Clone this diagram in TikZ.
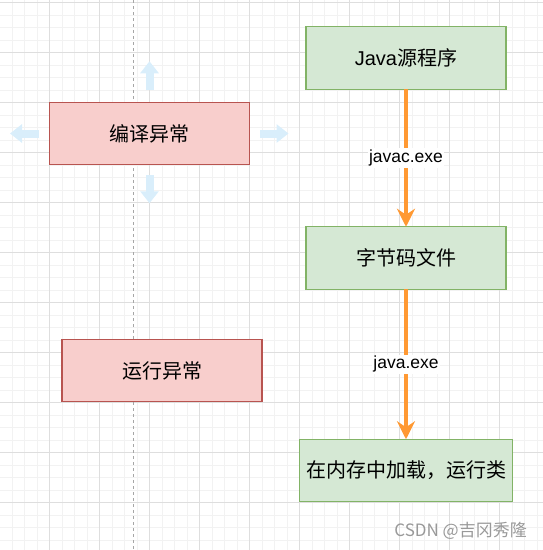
\documentclass[tikz,border=0pt]{standalone}
\usepackage{fontspec}
\setmainfont{Liberation Sans}
\newfontfamily\cjk{Noto Sans CJK SC}
\usepackage{tikz}
\usetikzlibrary{arrows.meta,positioning}
\definecolor{okfill}{HTML}{D5E8D4}
\definecolor{okline}{HTML}{82B366}
\definecolor{errfill}{HTML}{F8CECC}
\definecolor{errline}{HTML}{B85450}
\definecolor{flowline}{HTML}{FF9933}
\definecolor{hintblue}{RGB}{217,238,251}

\begin{document}
\begin{tikzpicture}[
    x=1pt, y=-1pt,
    okbox/.style={rectangle, draw=okline, fill=okfill, line width=1.25pt, outer sep=0pt, minimum width=200pt, minimum height=62.5pt, inner sep=0pt, font=\fontsize{20}{24}\selectfont},
    errbox/.style={rectangle, draw=errline, fill=errfill, line width=1.25pt, outer sep=0pt, minimum width=200pt, minimum height=62.5pt, inner sep=0pt, font=\fontsize{20}{24}\selectfont},
    flow/.style={-{Stealth[length=18pt, width=18pt, inset=6pt]}, draw=flowline, line width=3.5pt},
    tool/.style={fill=white, inner sep=1.5pt, font=\fontsize{17.5}{20}\selectfont},
    hint/.style={-{Triangle[length=12pt, width=18pt]}, draw=hintblue, line width=8pt},
    minorgrid/.style={draw=black!5, line width=0.8pt},
    majorgrid/.style={draw=black!13, line width=0.8pt},
    guide/.style={draw=black!35, line width=1pt, dash pattern=on 3pt off 3pt}
]
\useasboundingbox (0,0) rectangle (543,550);

% Grid
\begin{scope}
\clip (0,0) rectangle (543,550);
\foreach \gx in {-0.5,12,...,545} \draw[minorgrid] (\gx,0) -- (\gx,550);
\foreach \gy in {2.5,15,...,552} \draw[minorgrid] (0,\gy) -- (543,\gy);
\foreach \gx in {-0.5,49.5,...,545} \draw[majorgrid] (\gx,0) -- (\gx,550);
\foreach \gy in {2.5,52.5,...,552} \draw[majorgrid] (0,\gy) -- (543,\gy);
\end{scope}

% Guide line
\draw[guide] (133.5,0) -- (133.5,550);

% Source file
\node[okbox] (source) at (406,58) {Java{\cjk 源程序}};

% Bytecode
\node[okbox, below=137.5pt of source] (bytecode) {\cjk 字节码文件};

% Load and run
\node[okbox, below=150pt of bytecode, minimum width=212.5pt] (loadrun) {\cjk 在内存中加载，运行类};

% Exceptions
\node[errbox] (compileerr) at (149.5,133.5) {\cjk 编译异常};
\node[errbox] (runerr) at (162,370.5) {\cjk 运行异常};

% Main flow arrows
\draw[flow] (source) -- node[tool] {javac.exe} (bytecode);
\draw[flow] (bytecode) -- node[tool] {java.exe} (loadrun);

% Hover arrows
\draw[hint] ([yshift=12pt]compileerr.north) -- ++(0,-29);
\draw[hint] ([yshift=-10.5pt]compileerr.south) -- ++(0,28);
\draw[hint] ([xshift=-10.5pt]compileerr.west) -- ++(-29,0);
\draw[hint] ([xshift=10.5pt]compileerr.east) -- ++(28.5,0);

% Watermark
\node[anchor=east, text=black!40, font=\cjk\fontsize{17}{20}\selectfont, inner sep=0pt] (mark) at (527,531) {CSDN @吉冈秀隆};

\end{tikzpicture}
\end{document}
